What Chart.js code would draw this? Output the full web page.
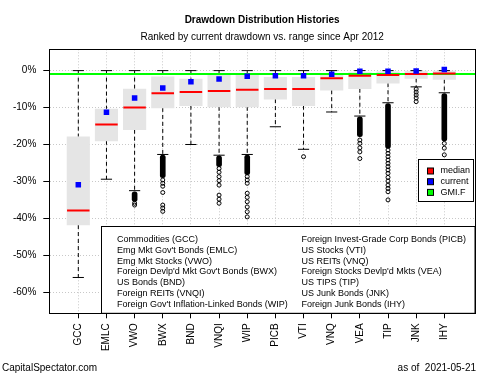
<!DOCTYPE html>
<html>
<head>
<meta charset="utf-8">
<title>Drawdown Distribution Histories</title>
<script src="https://cdn.jsdelivr.net/npm/chart.js@4.4.0/dist/chart.umd.min.js"></script>
<style>
    html, body { margin: 0; padding: 0; background: #fff; }
</style>
</head>
<body>
<canvas id="drawdownChart" width="500" height="375"></canvas>
<script>
// Tickers and names, in the order of the chart (ranked by current drawdown)
const tickers = ['GCC', 'EMLC', 'VWO', 'BWX', 'BND', 'VNQI', 'WIP', 'PICB', 'VTI', 'VNQ', 'VEA', 'TIP', 'JNK', 'IHY'];
const assetNames = [
    "Commodities (GCC)",
    "Emg Mkt Gov't Bonds (EMLC)",
    "Emg Mkt Stocks (VWO)",
    "Foreign Devlp'd Mkt Gov't Bonds (BWX)",
    "US Bonds (BND)",
    "Foreign REITs (VNQI)",
    "Foreign Gov't Inflation-Linked Bonds (WIP)",
    "Foreign Invest-Grade Corp Bonds (PICB)",
    "US Stocks (VTI)",
    "US REITs (VNQ)",
    "Foreign Stocks Devlp'd Mkts (VEA)",
    "US TIPS (TIP)",
    "US Junk Bonds (JNK)",
    "Foreign Junk Bonds (IHY)"
];

// Box plot stats in % drawdown
const whiskerHigh = [0, 0, 0, 0, 0, 0, 0, 0, 0, 0, 0, 0, 0, 0];
const boxTop = [-17.9, -10.4, -5.0, -1.7, -2.3, -1.2, -1.2, -1.8, -1.8, -1.1, -0.5, -0.3, 0.0, 0.0];
const medians = [-37.9, -14.6, -10.0, -6.1, -5.8, -5.5, -5.2, -5.0, -5.0, -2.1, -1.4, -1.2, -0.9, -0.8];
const boxBottom = [-41.8, -19.0, -16.0, -10.1, -9.5, -9.8, -9.8, -7.7, -9.5, -5.3, -4.9, -3.4, -2.1, -2.4];
const whiskerLow = [-56.0, -29.4, -32.5, -22.7, -20.0, -22.9, -22.7, -15.2, -21.3, -11.2, -12.3, -8.7, -4.4, -6.0];
const current = [-30.9, -11.3, -7.4, -4.7, -3.0, -2.3, -1.5, -1.4, -1.4, -1.0, -0.2, -0.2, -0.1, 0.3];
const gmiF = -0.95;

// Outliers: the dense runs (shown as a solid column) and single points
const denseTop = [null, null, -32.8, -22.9, null, -23.1, -22.9, null, null, null, -12.5, -8.9, null, -6.2];
const denseBottom = [null, null, -35.4, -29.0, null, -26.0, -28.2, null, null, null, -17.9, -21.0, null, -19.0];
const outliers = [
    [],
    [],
    [-35.9, -36.4],
    [-29.6, -30.5, -31.3, -33.0, -36.4, -37.2, -38.1],
    [],
    [-26.5, -27.5, -28.7, -29.8, -31.0, -33.7, -34.8, -35.9],
    [-28.7, -29.6, -30.5, -33.2, -34.3, -35.5, -36.9, -38.2, -39.6],
    [],
    [-23.3],
    [],
    [-18.8, -19.7, -20.9, -22.0, -23.8],
    [-21.5, -22.4, -23.3, -24.2, -25.1, -26.0, -26.9, -27.8, -28.9, -29.9, -31.0, -31.9, -32.8, -35.0],
    [-5.0, -5.8, -6.6, -7.4, -8.4],
    [-19.7, -21.0, -22.8]
];

const yTicks = [-60, -50, -40, -30, -20, -10, 0];
const legendLabels = ['median', 'current', 'GMI.F'];

const FONT = '"Liberation Sans", Arial, sans-serif';
const X_MIN = -0.03, X_MAX = 15.09;

// Build the point lists for the datasets
function pointsFor(values) {
    return values.map((v, i) => ({ x: i + 1, y: v }));
}

function whiskerPoints() {
    const pts = [];
    tickers.forEach((t, i) => {
        pts.push({ x: i + 1, y: whiskerHigh[i] }, { x: i + 1, y: boxTop[i] }, { x: i + 1, y: null });
        pts.push({ x: i + 1, y: boxBottom[i] }, { x: i + 1, y: whiskerLow[i] }, { x: i + 1, y: null });
    });
    return pts;
}

function capPoints() {
    const pts = [];
    tickers.forEach((t, i) => {
        pts.push({ x: i + 1, y: whiskerHigh[i] }, { x: i + 1, y: whiskerLow[i] });
    });
    return pts;
}

function outlierPoints() {
    const pts = [];
    outliers.forEach((list, i) => list.forEach(v => pts.push({ x: i + 1, y: v })));
    return pts;
}

function densePoints() {
    const pts = [];
    tickers.forEach((t, i) => {
        if (denseTop[i] !== null) pts.push({ x: i + 1, y: [denseTop[i], denseBottom[i]] });
    });
    return pts;
}

// Frame, the two legend boxes and the footer
const extrasPlugin = {
    id: 'extras',
    afterDatasetsDraw(chart) {
        const ctx = chart.ctx;
        const area = chart.chartArea;
        ctx.save();

        // legend with the asset names (bottom of plot)
        const lx = 101.5, ly = 226.5;
        ctx.fillStyle = '#fff';
        ctx.fillRect(lx, ly, area.right - lx, area.bottom - ly);
        ctx.strokeStyle = '#000';
        ctx.lineWidth = 1;
        ctx.strokeRect(lx, ly, area.right - lx, area.bottom - ly);
        ctx.fillStyle = '#000';
        ctx.font = '9px ' + FONT;
        ctx.textBaseline = 'middle';
        ctx.textAlign = 'left';
        assetNames.forEach((name, i) => {
            const col = i < 7 ? 0 : 1;
            const row = i % 7;
            ctx.fillText(name, col === 0 ? 117 : 301.5, 239.5 + row * 10.8);
        });

        // legend for median / current / GMI.F
        const rx = 418.5, ry = 159.5;
        ctx.fillStyle = '#fff';
        ctx.fillRect(rx, ry, 55, 42);
        ctx.strokeRect(rx, ry, 55, 42);
        const colors = [medianDs.borderColor, currentDs.backgroundColor, gmiDs.borderColor];
        legendLabels.forEach((label, i) => {
            const cy = 171 + i * 10.7;
            ctx.fillStyle = colors[i];
            ctx.fillRect(427.5, cy - 3, 6, 6);
            ctx.strokeRect(427.5, cy - 3, 6, 6);
            ctx.fillStyle = '#000';
            ctx.fillText(label, 440.5, cy);
        });

        // plot frame
        ctx.strokeRect(Math.round(area.left) + 0.5, Math.round(area.top) + 0.5,
            Math.round(area.right) - Math.round(area.left), Math.round(area.bottom) - Math.round(area.top));

        // footer
        ctx.font = '10px ' + FONT;
        ctx.fillText('CapitalSpectator.com', 2, 368);
        ctx.textAlign = 'right';
        ctx.fillText('as of  2021-05-21', 476, 368);
        ctx.restore();
    }
};

const currentDs = {
    type: 'scatter',
    label: 'current',
    data: pointsFor(current),
    pointStyle: 'rect',
    pointRadius: 3.9,
    backgroundColor: '#0000ff',
    borderWidth: 0,
    order: 1
};
const medianDs = {
    type: 'scatter',
    label: 'median',
    data: pointsFor(medians),
    pointStyle: 'line',
    pointRadius: 11.25,
    borderColor: '#ff0000',
    borderWidth: 2,
    order: 2
};
const gmiDs = {
    type: 'line',
    label: 'GMI.F',
    data: [{ x: X_MIN, y: gmiF }, { x: X_MAX, y: gmiF }],
    borderColor: '#00ff00',
    borderWidth: 2,
    pointRadius: 0,
    order: 6
};

const gridOpts = {
    color: '#c8c8c8',
    offset: false,
    tickColor: '#000',
    tickBorderDash: [],
    tickLength: 6
};

new Chart(document.getElementById('drawdownChart'), {
    type: 'bar',
    data: {
        datasets: [
            currentDs,
            medianDs,
            {
                type: 'scatter',
                label: 'caps',
                data: capPoints(),
                pointStyle: 'line',
                pointRadius: 5.6,
                borderColor: '#000',
                borderWidth: 1,
                order: 3
            },
            {
                type: 'scatter',
                label: 'outliers',
                data: outlierPoints(),
                pointStyle: 'circle',
                pointRadius: 2,
                borderColor: '#000',
                backgroundColor: 'rgba(0,0,0,0)',
                borderWidth: 1,
                order: 4
            },
            {
                type: 'bar',
                label: 'dense outliers',
                data: densePoints(),
                grouped: false,
                barThickness: 5,
                backgroundColor: '#000',
                borderRadius: 2.5,
                borderSkipped: false,
                order: 5
            },
            gmiDs,
            {
                type: 'bar',
                label: 'boxes',
                data: tickers.map((t, i) => ({ x: i + 1, y: [boxTop[i], boxBottom[i]] })),
                grouped: false,
                barThickness: 22.5,
                backgroundColor: '#e5e5e5',
                borderWidth: 0,
                order: 7
            },
            {
                type: 'line',
                label: 'whiskers',
                data: whiskerPoints(),
                borderColor: '#000',
                borderWidth: 1,
                borderDash: [4, 3],
                pointRadius: 0,
                spanGaps: false,
                order: 8
            }
        ]
    },
    options: {
        responsive: false,
        animation: false,
        layout: { padding: { left: 0, right: 25, top: 0, bottom: 0 } },
        plugins: {
            legend: { display: false },
            tooltip: { enabled: false },
            title: {
                display: true,
                fullSize: false,
                text: 'Drawdown Distribution Histories',
                color: '#000',
                font: { family: FONT, size: 10, weight: 'bold' },
                padding: { top: 14, bottom: 0 }
            },
            subtitle: {
                display: true,
                fullSize: false,
                text: 'Ranked by current drawdown vs. range since Apr 2012',
                color: '#000',
                font: { family: FONT, size: 10 },
                padding: { top: 5, bottom: 6.3 }
            }
        },
        scales: {
            x: {
                type: 'linear',
                min: X_MIN,
                max: X_MAX,
                offset: false,
                grid: Object.assign({}, gridOpts, { tickLength: 5 }),
                border: { color: '#000', width: 1, dash: [1, 2] },
                afterBuildTicks: scale => {
                    scale.ticks = tickers.map((t, i) => ({ value: i + 1 }));
                },
                afterFit: scale => { scale.height = 61.7; },
                ticks: {
                    autoSkip: false,
                    minRotation: 90,
                    maxRotation: 90,
                    padding: 5,
                    color: '#000',
                    font: { family: FONT, size: 10 },
                    callback: value => tickers[value - 1]
                }
            },
            y: {
                type: 'linear',
                min: -65.7,
                max: 5.77,
                grid: gridOpts,
                border: { color: '#000', width: 1, dash: [1, 2] },
                afterBuildTicks: scale => {
                    scale.ticks = yTicks.map(v => ({ value: v }));
                },
                afterFit: scale => { scale.width = 49.3; },
                ticks: {
                    padding: 7,
                    color: '#000',
                    font: { family: FONT, size: 10 },
                    callback: value => value + '%'
                }
            }
        }
    },
    plugins: [extrasPlugin]
});
</script>
</body>
</html>
